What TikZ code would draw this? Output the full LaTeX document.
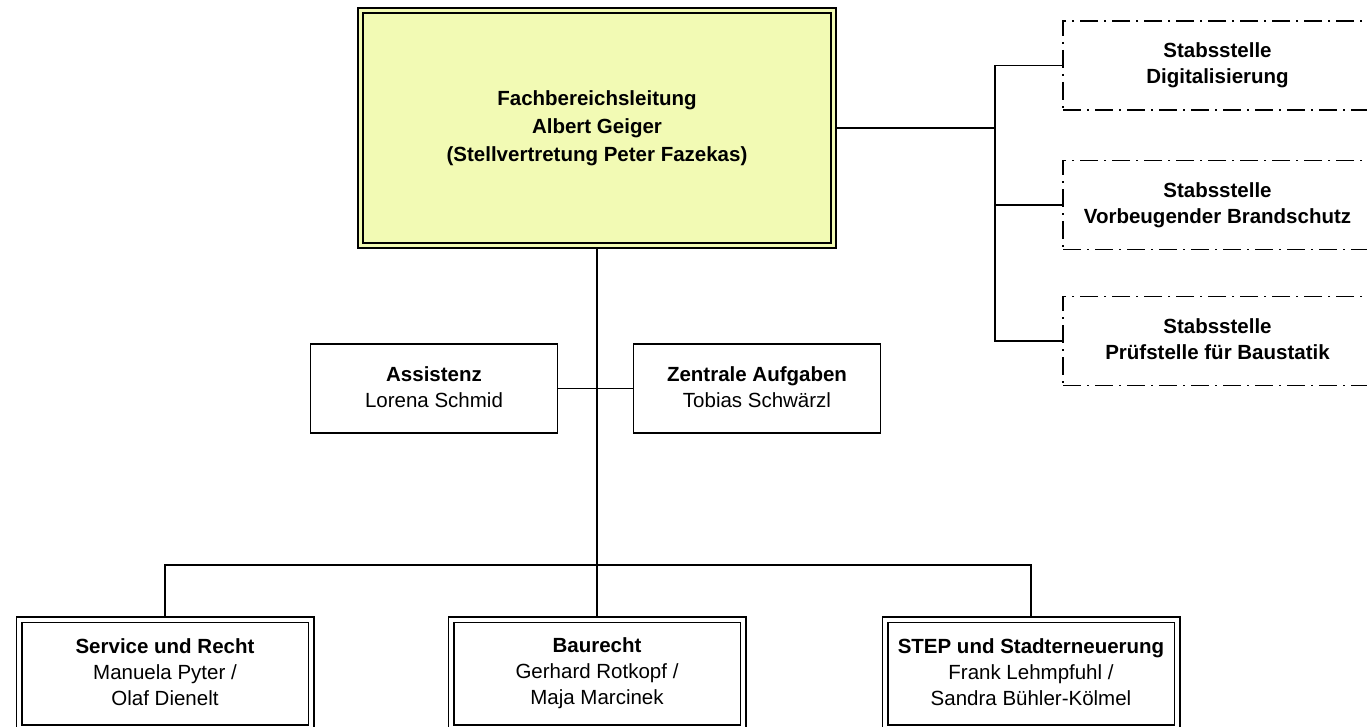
\documentclass[tikz,border=0pt]{standalone}
\usepackage{fontspec}
\setmainfont{Liberation Sans}
\definecolor{leitgelb}{RGB}{242,250,180}

\begin{document}
\begin{tikzpicture}[x=1pt,y=1pt,
  txt/.style={align=center,font=\fontsize{20.5}{26}\selectfont,
    execute at begin node={\rule{0pt}{20pt}},
    execute at end node={\rule[-3.6pt]{0pt}{3.6pt}}},
  leitbox/.style={txt,draw,line width=1.8pt,double=leitgelb,double distance=3.5pt,
    fill=leitgelb,minimum width=473pt,minimum height=235pt,outer sep=3.5pt,
    font=\fontsize{20.5}{28}\selectfont\bfseries},
  einzelbox/.style={txt,draw,line width=1.8pt,minimum width=247pt,minimum height=89pt},
  abtbox/.style={txt,draw,line width=1.5pt,double=white,double distance=4pt,
    minimum width=292pt,minimum height=108pt,outer sep=3.5pt},
  stabbox/.style={txt,draw,line width=1.2pt,dash pattern=on 18pt off 6pt on 2pt off 6pt,
    minimum width=309pt,minimum height=89pt,font=\fontsize{20.5}{26}\selectfont\bfseries},
  verbindung/.style={line width=1.7pt}]
  \useasboundingbox (0,0) rectangle (1367,726);
  % Leitung
  \node[leitbox] (leitung) at (597,598)
    {Fachbereichsleitung\\Albert Geiger\\(Stellvertretung Peter Fazekas)};
  % Stabsstellen
  \node[stabbox] (stab1) at (1217.5,660.5) {Stabsstelle\\Digitalisierung};
  \node[stabbox] (stab2) at (1217.5,521) {Stabsstelle\\Vorbeugender Brandschutz};
  \node[stabbox] (stab3) at (1217.5,385) {Stabsstelle\\Prüfstelle für Baustatik};
  \coordinate (stabbus) at (995,598);
  % Assistenz und Zentrale Aufgaben
  \node[einzelbox] (assistenz) at (434,337.5) {\textbf{Assistenz}\\Lorena Schmid};
  \node[einzelbox] (zentrale) at (757,337.5) {\textbf{Zentrale Aufgaben}\\Tobias Schwärzl};
  % Abteilungen
  \node[abtbox] (service) at (165,52.5) {\textbf{Service und Recht}\\Manuela Pyter /\\Olaf Dienelt};
  \node[abtbox] (baurecht) at (597,52.5) {\textbf{Baurecht}\\Gerhard Rotkopf /\\Maja Marcinek};
  \node[abtbox] (step) at (1031,52.5) {\textbf{STEP und Stadterneuerung}\\Frank Lehmpfuhl /\\Sandra Bühler-Kölmel};
  \coordinate (abtbus) at (597,161);
  % Linien
  \draw[verbindung] (leitung.east) -- (stabbus);
  \draw[verbindung] (stab1.west) -- (stab1.west -| stabbus) -- (stab3.west -| stabbus) -- (stab3.west);
  \draw[verbindung] (stab2.west) -- (stab2.west -| stabbus);
  \draw[verbindung] (leitung.south) -- (baurecht.north);
  \draw[verbindung] (assistenz.east) -- (zentrale.west);
  \draw[verbindung] (service.north) |- (abtbus) -| (step.north);
\end{tikzpicture}
\end{document}
